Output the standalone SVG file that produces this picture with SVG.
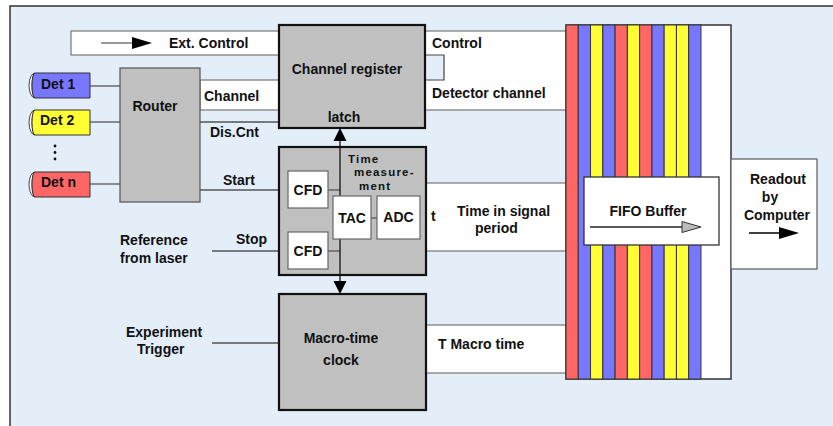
<svg xmlns="http://www.w3.org/2000/svg" width="833" height="426" viewBox="0 0 833 426">
<style>
text{font-family:"Liberation Sans",Arial,sans-serif;font-weight:bold;font-size:14px;fill:#111}
.c{text-anchor:middle}
.sm{font-size:11.5px;letter-spacing:1.2px}
.band{fill:#fff;stroke:#777;stroke-width:1.2}
.wire{stroke:#555;stroke-width:1.3;fill:none}
.blk{fill:#c0c0c0;stroke:#111;stroke-width:2.2}
.sub{fill:#fff;stroke:#666;stroke-width:1.2}
.st{stroke:#333;stroke-width:1}
.r{fill:#ff6666}.b{fill:#7777ff}.y{fill:#ffff33}
</style>
<rect x="10" y="6" width="830" height="430" fill="#e3eef9" stroke="#333" stroke-width="1.5"/>

<g id="connectors">
  <rect class="band" x="71" y="31" width="208" height="24"/>
  <line class="st" x1="101" y1="43" x2="134" y2="43" stroke="#000" stroke-width="1.5"/>
  <polygon points="132,37 152,43 132,49" fill="#000"/>
  <rect class="band" x="200" y="80" width="79" height="30"/>
  <rect class="band" x="425" y="31" width="142" height="79"/>
  <path d="M425,55 H444 V80 H425" fill="#e3eef9" stroke="#444" stroke-width="1.2"/>
  <rect class="band" x="426" y="183" width="141" height="68"/>
  <rect class="band" x="426" y="325" width="141" height="48"/>
  <line class="wire" x1="200" y1="122" x2="279" y2="122"/>
  <line class="wire" x1="90" y1="86" x2="120" y2="86"/>
  <line class="wire" x1="90" y1="122" x2="120" y2="122"/>
  <line class="wire" x1="90" y1="184" x2="120" y2="184"/>
  <line class="wire" x1="200" y1="190" x2="288" y2="190"/>
  <line class="wire" x1="212" y1="251" x2="288" y2="251"/>
  <line class="wire" x1="212" y1="343" x2="279" y2="343"/>
</g>

<g id="ext-control"><text x="169" y="48">Ext. Control</text></g>

<g id="det1">
  <path d="M35,73 A6 12.5 0 0 0 35,98 A3 12.5 0 0 1 35,73 Z" fill="#fff" stroke="#444" stroke-width="1"/>
  <path class="b" d="M35,73 H90 V98 H35 A3 12.5 0 0 1 35,73 Z" stroke="#333" stroke-width="1"/>
  <text x="41" y="89">Det 1</text>
</g>
<g id="det2">
  <path d="M35,110 A6 12.5 0 0 0 35,135 A3 12.5 0 0 1 35,110 Z" fill="#fff" stroke="#444" stroke-width="1"/>
  <path class="y" d="M35,110 H90 V135 H35 A3 12.5 0 0 1 35,110 Z" stroke="#333" stroke-width="1"/>
  <text x="40" y="125">Det 2</text>
</g>
<g id="dots">
  <circle cx="55" cy="146" r="1.4" fill="#111"/>
  <circle cx="55" cy="152.5" r="1.4" fill="#111"/>
  <circle cx="55" cy="159" r="1.4" fill="#111"/>
</g>
<g id="detn">
  <path d="M35,172 A6 12.5 0 0 0 35,197 A3 12.5 0 0 1 35,172 Z" fill="#fff" stroke="#444" stroke-width="1"/>
  <path class="r" d="M35,172 H90 V197 H35 A3 12.5 0 0 1 35,172 Z" stroke="#333" stroke-width="1"/>
  <text x="41" y="187">Det n</text>
</g>

<g id="router">
  <rect x="120" y="68" width="80" height="134" fill="#c0c0c0" stroke="#555" stroke-width="1.2"/>
  <text class="c" x="155" y="111">Router</text>
  <text x="204" y="101">Channel</text>
  <text x="210" y="137">Dis.Cnt</text>
  <text x="223" y="185">Start</text>
</g>

<g id="channel-register">
  <rect class="blk" x="279" y="25" width="146" height="103"/>
  <text class="c" x="347" y="74">Channel register</text>
  <text class="c" x="344" y="122">latch</text>
  <text x="432" y="48">Control</text>
  <text x="432" y="98">Detector channel</text>
</g>

<g id="time-measurement">
  <rect class="blk" x="279" y="147" width="147" height="128"/>
  <text class="sm" x="348" y="163">Time<tspan x="354" dy="13.3">measure-</tspan><tspan x="359" dy="13.3">ment</tspan></text>
  <line class="wire" x1="328" y1="190" x2="340" y2="190"/>
  <line class="wire" x1="328" y1="251" x2="340" y2="251"/>
  <line class="wire" x1="371" y1="218" x2="377" y2="218"/>
</g>
<g id="arrow-v">
  <line x1="340" y1="140" x2="340" y2="283" stroke="#111" stroke-width="1.3"/>
  <polygon points="340,128 346.5,141 333.5,141" fill="#000"/>
  <polygon points="340,294 346.5,281 333.5,281" fill="#000"/>
</g>
<g id="cfd1"><rect class="sub" x="288" y="171" width="40" height="37"/><text class="c" x="308" y="195">CFD</text></g>
<g id="cfd2"><rect class="sub" x="288" y="232" width="40" height="37"/><text class="c" x="308" y="256">CFD</text></g>
<g id="tac"><rect class="sub" x="333" y="196" width="38" height="43"/><text class="c" x="352" y="223">TAC</text></g>
<g id="adc"><rect class="sub" x="377" y="196" width="43" height="43"/><text class="c" x="398.5" y="222">ADC</text></g>

<g id="labels-time">
  <text x="431" y="221">t</text>
  <text x="457" y="216">Time in signal</text>
  <text x="475" y="233">period</text>
  <text x="236" y="244">Stop</text>
  <text x="120" y="245">Reference</text>
  <text x="120" y="263">from laser</text>
</g>

<g id="macro-time">
  <rect class="blk" x="279" y="294" width="147" height="116"/>
  <text class="c" x="341" y="343">Macro-time</text>
  <text class="c" x="341" y="365">clock</text>
  <text x="438" y="349">T Macro time</text>
</g>
<g id="experiment-trigger">
  <text x="126" y="337">Experiment</text>
  <text x="137" y="354">Trigger</text>
</g>

<g id="fifo">
  <rect x="566" y="25" width="165" height="354" fill="#fff" stroke="#333" stroke-width="1.5"/>
  <rect class="r st" x="566" y="25" width="12.27" height="354"/>
  <rect class="b st" x="578.27" y="25" width="12.27" height="354"/>
  <rect class="y st" x="590.54" y="25" width="12.27" height="354"/>
  <rect class="b st" x="602.81" y="25" width="12.27" height="354"/>
  <rect class="r st" x="615.08" y="25" width="12.27" height="354"/>
  <rect class="y st" x="627.35" y="25" width="12.27" height="354"/>
  <rect class="r st" x="639.62" y="25" width="12.27" height="354"/>
  <rect class="b st" x="651.89" y="25" width="12.27" height="354"/>
  <rect class="y st" x="664.16" y="25" width="12.27" height="354"/>
  <rect class="y st" x="676.43" y="25" width="12.27" height="354"/>
  <rect class="b st" x="688.7" y="25" width="12.27" height="354"/>
  <rect x="584" y="177" width="135" height="68" fill="#fff" stroke="#333" stroke-width="1.3"/>
  <text class="c" x="648" y="216">FIFO Buffer</text>
  <line x1="590" y1="227" x2="683" y2="227" stroke="#222" stroke-width="1.3"/>
  <polygon points="682,221.5 701,227 682,232.5" fill="#bbb" stroke="#333" stroke-width="1"/>
</g>

<g id="readout">
  <rect x="731" y="159" width="86" height="110" fill="#fff" stroke="#666" stroke-width="1.3"/>
  <text class="c" x="778" y="184">Readout</text>
  <text class="c" x="770" y="202">by</text>
  <text class="c" x="777" y="220">Computer</text>
  <line x1="749" y1="233" x2="781" y2="233" stroke="#000" stroke-width="1.5"/>
  <polygon points="779,227 799,233 779,239" fill="#000"/>
</g>
</svg>
